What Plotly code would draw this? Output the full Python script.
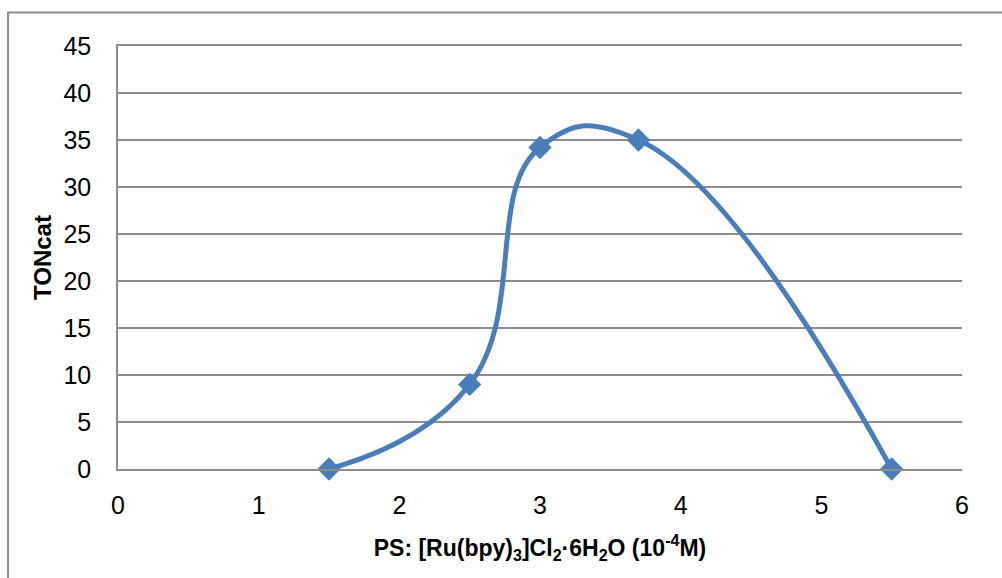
import plotly.graph_objects as go

# PS concentration (10^-4 M) vs. catalytic turnover number
ps_conc = [1.5, 2.5, 3.0, 3.7, 5.5]
ton_cat = [0, 9, 34.2, 35, 0]

x_ticks = [0, 1, 2, 3, 4, 5, 6]
y_ticks = [0, 5, 10, 15, 20, 25, 30, 35, 40, 45]

blue = "#4A7EBB"
grid = "#8C8C8C"
font_family = "Liberation Sans"
tick_font = dict(family=font_family, size=25, color="#000000")

fig = go.Figure()
fig.add_trace(go.Scatter(
    x=ps_conc, y=ton_cat,
    mode="lines+markers",
    line=dict(color=blue, width=5, shape="spline", smoothing=1.3),
    marker=dict(symbol="diamond", size=18, color=blue),
    showlegend=False,
    cliponaxis=False,
))

fig.update_layout(
    width=1002, height=578,
    margin=dict(l=118, r=40, t=46, b=109),
    paper_bgcolor="white", plot_bgcolor="white",
    font=dict(family=font_family, size=23, color="#000000"),
    xaxis=dict(
        range=[0, 6], tickvals=x_ticks, ticktext=[str(v) for v in x_ticks],
        tickfont=tick_font,
        showgrid=False, zeroline=False,
        showline=True, linecolor=grid, linewidth=1.5, mirror=True,
        ticks="outside", ticklen=13, tickcolor="rgba(0,0,0,0)",
        title=dict(text="<b>PS: [Ru(bpy)<sub>3</sub>]Cl<sub>2</sub>·6H<sub>2</sub>O (10<sup>-4</sup>M)</b>",
                   font=dict(family=font_family, size=23), standoff=22),
    ),
    yaxis=dict(
        range=[0, 45], tickvals=y_ticks, ticktext=[str(v) for v in y_ticks],
        tickfont=tick_font,
        showgrid=True, gridcolor=grid, gridwidth=1.5,
        zeroline=False, showline=True, linecolor=grid, linewidth=1.5,
        ticks="outside", ticklen=20, tickcolor="rgba(0,0,0,0)",
        title=dict(text="<b>TONcat</b>", font=dict(family=font_family, size=24), standoff=5),
    ),
)

# Outer chart frame
fig.add_shape(type="rect", xref="paper", yref="paper",
              x0=-0.1303, x1=1.06, y0=-0.29, y1=1.0792,
              line=dict(color="#8C8C8C", width=2), fillcolor="rgba(0,0,0,0)",
              layer="below")

fig.write_html("out.html")
